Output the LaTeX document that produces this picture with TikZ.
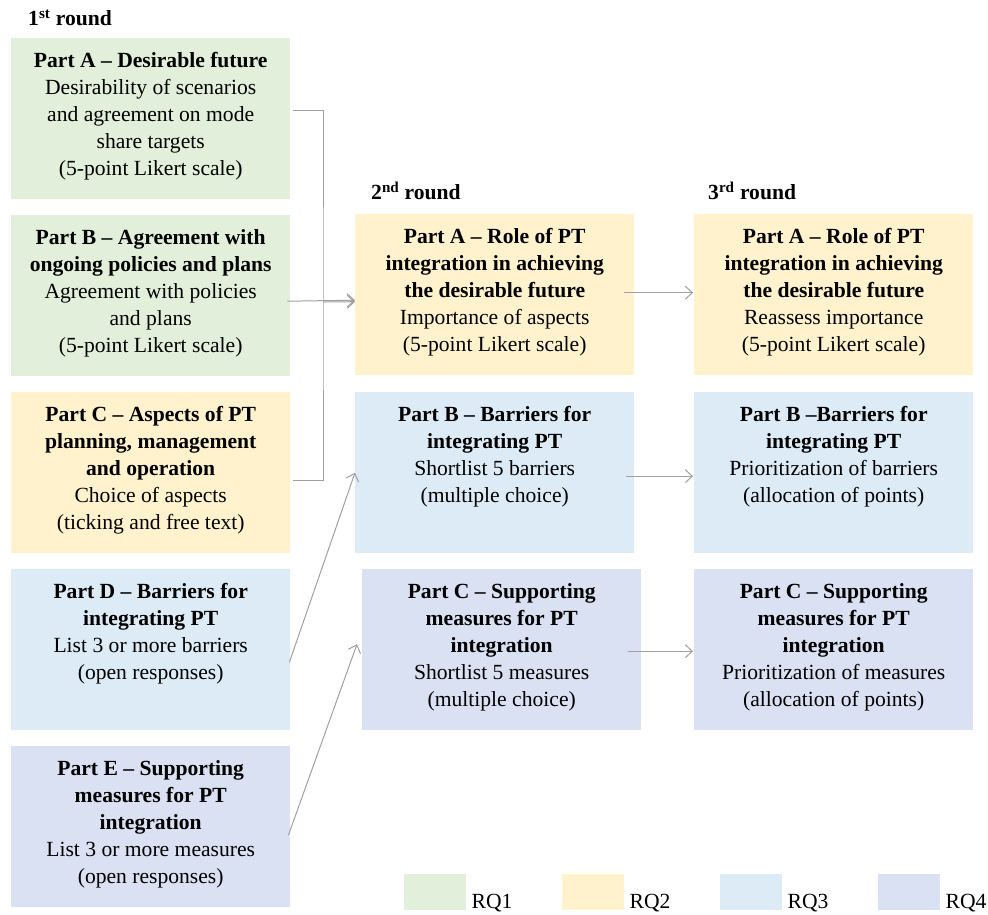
\documentclass[tikz,border=0pt]{standalone}
\usepackage{fontspec}
\setmainfont{Liberation Serif}
\usepackage{xcolor}
\usetikzlibrary{calc,positioning,arrows.meta}
\definecolor{RQone}{HTML}{E2EFDA}
\definecolor{RQtwo}{HTML}{FFF2CC}
\definecolor{RQthree}{HTML}{DDEBF7}
\definecolor{RQfour}{HTML}{D9E1F2}
\definecolor{Wire}{HTML}{A0A0A0}
\newcommand{\boxtext}[1]{\parbox[c][161pt][t]{275pt}{\centering\rule{0pt}{29pt}#1}}
\begin{document}
\begin{tikzpicture}[x=1pt,y=-1pt,
  part/.style={fill=#1,inner sep=0pt,minimum width=279pt,minimum height=161pt,anchor=north west,font=\fontsize{21.6}{27}\selectfont},
  head/.style={anchor=base west,inner sep=0pt,font=\fontsize{21.6}{27}\selectfont\bfseries},
  wire/.style={draw=Wire,line width=1pt},
  flow/.style={wire,-{Straight Barb[length=7pt,width=13pt]}},
  key/.style={fill=#1,inner sep=0pt,minimum width=62pt,minimum height=36pt,anchor=north west},
  keylabel/.style={anchor=base west,inner sep=0pt,font=\fontsize{21.6}{27}\selectfont}]
\useasboundingbox (0,0) rectangle (988,915);
% round headers
\node[head] (r1) at (28,26) {1\textsuperscript{st} round};
\node[head] (r2) at (371,200) {2\textsuperscript{nd} round};
\node[head] (r3) at (708,200) {3\textsuperscript{rd} round};
% 1st round
\node[part=RQone] (a1) at (11,38) {\boxtext{\textbf{Part A – Desirable future}\\Desirability of scenarios\\and agreement on mode\\share targets\\(5-point Likert scale)}};
\node[part=RQone] (b1) at (11,215) {\boxtext{\textbf{Part B – Agreement with}\\\textbf{ongoing policies and plans}\\Agreement with policies\\and plans\\(5-point Likert scale)}};
\node[part=RQtwo] (c1) at (11,392) {\boxtext{\textbf{Part C – Aspects of PT}\\\textbf{planning, management}\\\textbf{and operation}\\Choice of aspects\\(ticking and free text)}};
\node[part=RQthree] (d1) at (11,569) {\boxtext{\textbf{Part D – Barriers for}\\\textbf{integrating PT}\\List 3 or more barriers\\(open responses)}};
\node[part=RQfour] (e1) at (11,746) {\boxtext{\textbf{Part E – Supporting}\\\textbf{measures for PT}\\\textbf{integration}\\List 3 or more measures\\(open responses)}};
% 2nd round
\node[part=RQtwo] (a2) at (355,214) {\boxtext{\textbf{Part A – Role of PT}\\\textbf{integration in achieving}\\\textbf{the desirable future}\\Importance of aspects\\(5-point Likert scale)}};
\node[part=RQthree] (b2) at (355,392) {\boxtext{\textbf{Part B – Barriers for}\\\textbf{integrating PT}\\Shortlist 5 barriers\\(multiple choice)}};
\node[part=RQfour] (c2) at (362,569) {\boxtext{\textbf{Part C – Supporting}\\\textbf{measures for PT}\\\textbf{integration}\\Shortlist 5 measures\\(multiple choice)}};
% 3rd round
\node[part=RQtwo] (a3) at (694,214) {\boxtext{\textbf{Part A – Role of PT}\\\textbf{integration in achieving}\\\textbf{the desirable future}\\Reassess importance\\(5-point Likert scale)}};
\node[part=RQthree] (b3) at (694,392) {\boxtext{\textbf{Part B –Barriers for}\\\textbf{integrating PT}\\Prioritization of barriers\\(allocation of points)}};
\node[part=RQfour] (c3) at (694,569) {\boxtext{\textbf{Part C – Supporting}\\\textbf{measures for PT}\\\textbf{integration}\\Prioritization of measures\\(allocation of points)}};
% connectors
\coordinate (join) at (323,302);
\draw[wire] ($(a1.east)+(3,-8.5)$) -| (join) |- ($(c1.east)+(3,7.5)$);
\draw[flow] ($(b1.east)+(-3,5.5)$) -- ($(a2.west)+(0,5.5)$);
\draw[flow] (join) -- ($(a2.west)+(0,7)$);
\draw[flow] ($(d1.east)+(-1,12.5)$) -- (b2.west);
\draw[flow] ($(e1.east)+(-2,8.5)$) -- ($(c2.west)+(-5,-5.5)$);
\draw[flow] ($(a2.east)+(-10,-2)$) -- ($(a3.west)+(-1,-2)$);
\draw[flow] ($(b2.east)+(-8,3.5)$) -- ($(b3.west)+(-1,3.5)$);
\draw[flow] ($(c2.east)+(-13,1.5)$) -- ($(c3.west)+(-1,1.5)$);
% legend
\node[key=RQone] (k1) at (404,874) {};
\node[key=RQtwo] (k2) at (562,874) {};
\node[key=RQthree] (k3) at (720,874) {};
\node[key=RQfour] (k4) at (878,874) {};
\node[keylabel] (l1) at ($(k1.south east)+(5,-2)$) {RQ1};
\node[keylabel] (l2) at ($(k2.south east)+(5,-2)$) {RQ2};
\node[keylabel] (l3) at ($(k3.south east)+(5,-2)$) {RQ3};
\node[keylabel] (l4) at ($(k4.south east)+(5,-2)$) {RQ4};
\end{tikzpicture}
\end{document}
